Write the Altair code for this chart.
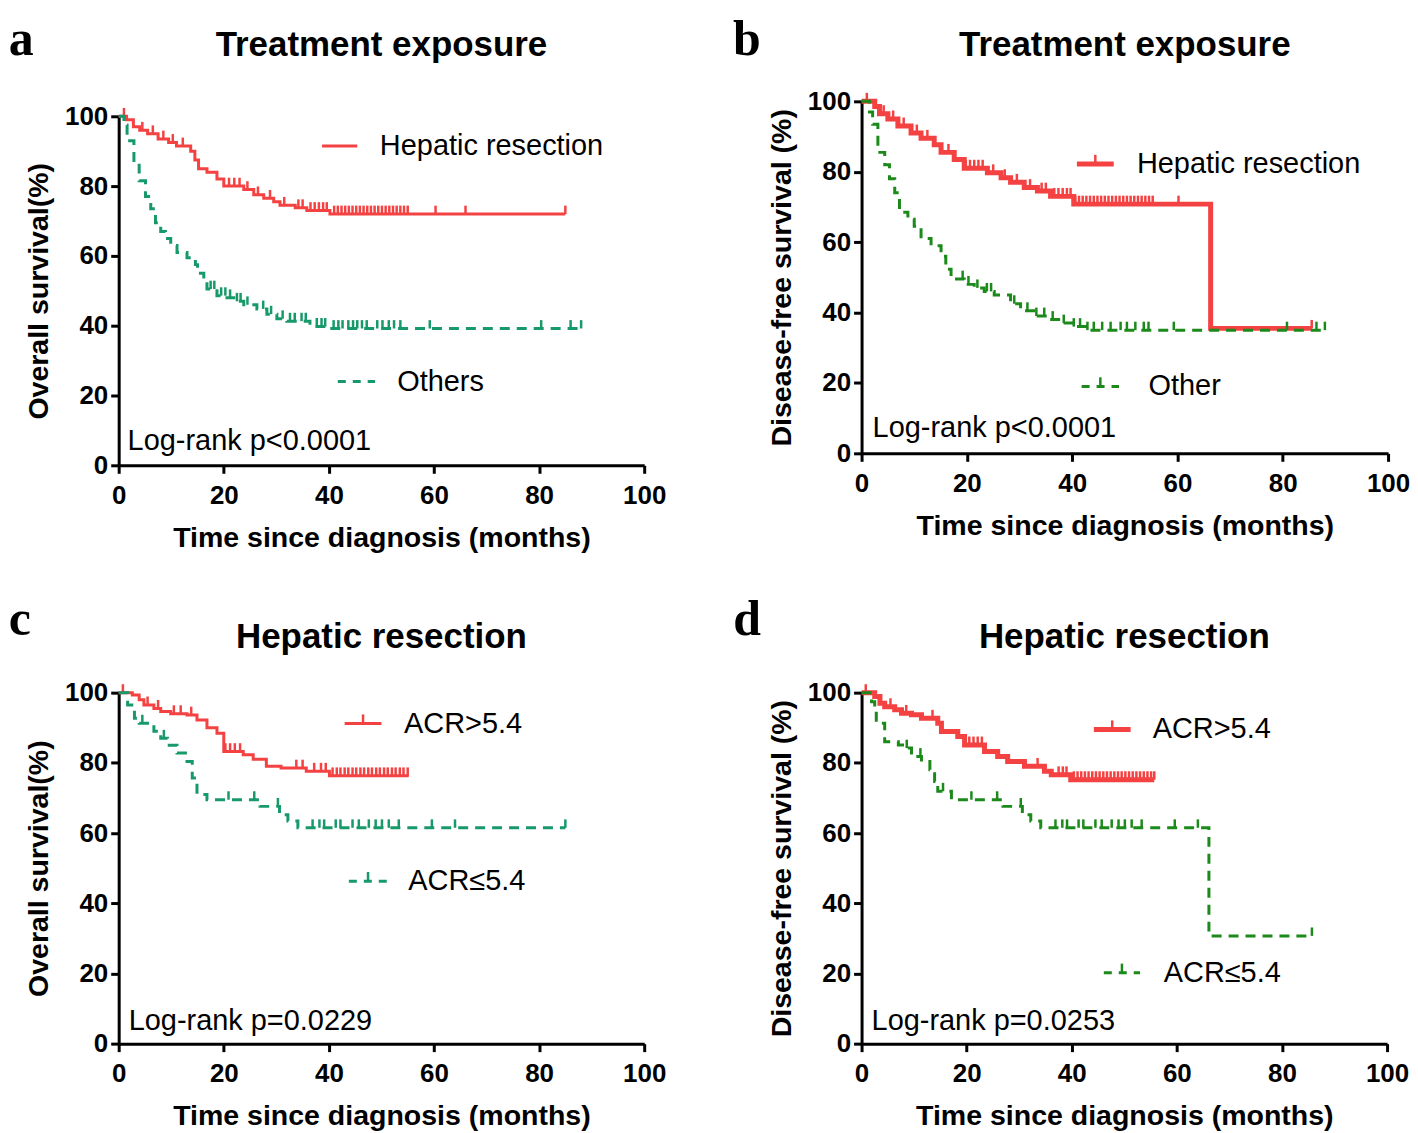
import altair as alt
import pandas as pd

# ---------------- data ----------------
TICKS = [0, 20, 40, 60, 80, 100]

# Panel a: overall survival, treatment exposure
A_HR_T = [0, 1.5, 2.8, 4.0, 5.5, 7.5, 9.5, 11.0, 13.7, 14.5, 15.2, 16.8, 18.7, 20.0, 23.8, 25.7, 27.6, 29.5, 30.7, 33.6, 35.8, 40.2, 85.0]
A_HR_S = [100, 99, 97, 96, 95, 93.5, 92.5, 91.5, 90, 87.5, 85, 84, 82, 80, 79, 77.5, 76.5, 75.5, 74.5, 73.8, 73, 72, 72]
A_HR_C = [1.0, 4.5, 6.5, 8.5, 10.3, 12.2, 21.0, 22.0, 23.0, 24.5, 26.5, 28.8, 31.5, 34.2, 35.0, 36.5, 37.3, 38.1, 38.9, 39.6,
          41.0, 41.7, 42.4, 43.1, 43.8, 44.5, 45.2, 45.9, 46.6, 47.3, 48.0, 48.7, 49.4, 50.1, 50.8, 51.5, 52.2, 52.9, 53.6,
          54.3, 55.0, 60.3, 66.0, 85.0]
A_OT_T = [0, 1.0, 1.6, 2.9, 3.9, 5.1, 6.1, 7.0, 8.0, 8.9, 9.9, 11.1, 13.0, 14.6, 15.0, 16.2, 16.8, 18.7, 20.6, 21.9, 23.8,
          26.3, 28.2, 30.1, 32.0, 36.4, 40.2, 88.0]
A_OT_S = [100, 97.5, 93, 86, 81.5, 77, 73.5, 69.5, 67, 65, 63, 61, 59.5, 57.5, 55, 53, 50.5, 48.6, 48, 47, 46, 44.8, 43.3,
          42, 41.3, 39.8, 39.2, 39.2]
A_OT_C = [17.5, 18.2, 19.5, 20.3, 21.2, 22.5, 23.2, 24.5, 27.5, 29.0, 31.2, 32.6, 33.5, 34.8, 35.6, 37.7, 38.6, 39.3, 40.9,
          41.8, 42.6, 43.7, 44.6, 45.4, 46.3, 47.2, 49.2, 50.2, 51.4, 52.4, 53.6, 59.2, 80.4, 86.0, 88.0]

# Panel b: disease-free survival, treatment exposure
B_HR_T = [0, 2.5, 3.4, 5.0, 6.9, 9.4, 11.3, 13.8, 15.1, 17.6, 19.5, 23.9, 26.5, 28.3, 30.9, 33.4, 35.9, 40.3, 66.3, 85.5]
B_HR_S = [100, 98.5, 96.5, 95, 93, 91, 89.5, 87.7, 85.5, 83.5, 81, 79.7, 78.3, 77, 75.5, 74.5, 73, 70.8, 35.5, 35.5]
B_HR_C = [1.0, 4.2, 6.0, 8.0, 10.5, 12.5, 16.5, 19.8, 20.6, 21.4, 22.2, 23.0, 25.0, 27.2, 29.5, 32.0, 34.2, 35.0, 36.6,
          37.4, 38.2, 39.0, 39.7, 40.6, 41.3, 42.0, 42.7, 43.4, 44.1, 44.8, 45.5, 46.2, 46.9, 47.6, 48.3, 49.0, 49.7,
          50.4, 51.1, 51.8, 52.5, 53.2, 53.9, 54.6, 55.3, 60.2, 85.5]
B_OT_T = [0, 1.5, 2.1, 3.1, 4.4, 5.3, 6.3, 7.2, 8.8, 10.0, 11.3, 13.2, 15.1, 16.0, 17.0, 19.5, 21.4, 23.3, 25.2, 28.3,
          30.2, 33.1, 35.3, 37.8, 40.3, 42.9, 88.0]
B_OT_S = [100, 97, 93.5, 85.5, 82, 78, 74, 68.5, 66.5, 64.5, 61, 59, 56, 52.3, 49.5, 48, 47, 46, 45, 42.5, 40.5, 39, 38,
          37, 36, 35, 35]
B_OT_C = [19.2, 20.3, 22.0, 23.8, 24.6, 29.0, 31.5, 33.2, 34.7, 36.3, 38.4, 40.3, 41.5, 42.9, 44.1, 45.7, 47.3, 49.2,
          50.4, 52.0, 53.6, 54.5, 59.3, 80.8, 86.4, 88.0]

# Panel c: overall survival, hepatic resection by ACR
C_HI_T = [0, 2.6, 3.9, 4.8, 6.7, 8.0, 9.9, 13.0, 14.9, 16.8, 18.7, 20.0, 23.7, 25.6, 28.1, 30.9, 35.7, 40.1, 55.2]
C_HI_S = [100, 99.3, 98, 96.5, 95.5, 94.6, 94, 93.6, 92.2, 90, 88.4, 83.2, 82.3, 81, 79, 78.5, 77.6, 76.3, 76.3]
C_HI_C = [0.8, 5.5, 7.5, 10.5, 11.8, 13.8, 20.3, 21.2, 22.1, 23.1, 33.8, 35.0, 37.2, 38.5, 39.4, 40.7, 41.5, 42.2, 43.0,
          43.7, 44.5, 45.2, 46.0, 46.7, 47.5, 48.2, 49.0, 49.7, 50.5, 51.2, 52.0, 52.7, 53.5, 54.2, 55.0]
C_LO_T = [0, 1.7, 3.0, 3.9, 6.7, 8.0, 9.3, 11.1, 12.7, 14.0, 14.9, 16.8, 26.9, 30.6, 32.2, 34.1, 85.0]
C_LO_S = [100, 96.5, 92.7, 91.3, 89, 87, 85, 82.8, 80.4, 75.7, 71, 69.5, 67.6, 65.2, 63.4, 61.5, 61.5]
C_LO_C = [4.5, 8.6, 20.9, 25.8, 30.3, 36.9, 38.2, 39.1, 41.3, 42.2, 44.5, 45.7, 47.6, 48.9, 50.1, 51.4, 53.3, 59.6,
          64.0, 85.0]

# Panel d: disease-free survival, hepatic resection by ACR
D_HI_T = [0, 2.5, 3.5, 4.4, 6.3, 7.6, 9.5, 11.4, 14.5, 15.2, 18.3, 19.6, 23.4, 25.9, 27.8, 31.0, 34.8, 36.1, 39.8, 55.7]
D_HI_S = [100, 98.9, 97, 96, 95.1, 94.1, 93.7, 92.7, 91.3, 88.9, 87.5, 85.1, 83.2, 81.8, 80.4, 79, 77.6, 76.6, 75.2, 75.2]
D_HI_C = [0.8, 5.5, 8.5, 13.5, 20.5, 21.3, 22.1, 22.9, 33.5, 37.5, 38.3, 39.0, 40.4, 41.1, 41.8, 42.5, 43.2, 43.9, 44.6,
          45.3, 46.0, 46.7, 47.4, 48.1, 48.8, 49.5, 50.2, 50.9, 51.6, 52.3, 53.0, 53.7, 54.4, 55.1, 55.7]
D_LO_T = [0, 1.9, 2.5, 2.8, 4.4, 7.0, 8.2, 9.5, 11.4, 13.0, 13.9, 14.5, 17.1, 26.9, 30.6, 32.2, 34.1, 66.1, 85.7]
D_LO_S = [100, 97.4, 94.1, 91.3, 86, 85.1, 84.2, 81.8, 80.4, 78, 74.7, 71.9, 69.5, 67.6, 65.2, 63.4, 61.5, 30.7, 30.7]
D_LO_C = [8.6, 11.2, 15.5, 20.9, 25.8, 30.3, 36.9, 38.2, 39.1, 41.3, 42.2, 44.5, 45.7, 47.6, 48.9, 50.1, 51.4, 53.3,
          59.6, 64.0, 85.7]

# ---------------- styling ----------------
RED = "#F44242"
TEAL = "#17996A"
GREEN = "#1B8A1B"
SANS = "Liberation Sans"
SERIF = "Liberation Serif"
DASH = [10, 7]
X_TITLE = "Time since diagnosis (months)"


def surv_at(ts, ss, c):
    val = ss[0]
    for t, s in zip(ts, ss):
        if t <= c:
            val = s
    return val


def panel(p):
    w, h = p["w"], p["h"]
    sc = alt.Scale(domain=[0, 100], nice=False, zero=False)
    xenc = alt.X("t:Q", scale=sc, axis=alt.Axis(values=TICKS, title=X_TITLE, labelPadding=9, titlePadding=15,
                                                labelFlush=False))
    yenc = alt.Y("s:Q", scale=sc, axis=alt.Axis(values=TICKS, title=p["ytitle"], labelPadding=3, titlePadding=11,
                                                labelFlush=False))

    layers = []
    for key, color, width, dash in [("hi", RED, p["red_w"], None), ("lo", p["green"], 3, DASH)]:
        ts, ss, cs = p[key]
        df = pd.DataFrame({"t": ts, "s": ss})
        kw = dict(interpolate="step-after", color=color, strokeWidth=width, strokeCap="butt")
        if dash:
            kw["strokeDash"] = dash
        layers.append(alt.Chart(df).mark_line(**kw).encode(x=xenc, y=yenc))
        cdf = pd.DataFrame({"t": cs, "s": [surv_at(ts, ss, c) for c in cs]})
        cdf["s2"] = cdf["s"] + 2.4
        layers.append(alt.Chart(cdf).mark_rule(color=color, strokeWidth=2.5).encode(
            x=xenc, y=yenc, y2=alt.Y2("s2:Q")))

    # legend samples
    for (x1, x2, yy, tx, label, color, width, dash, tick) in p["legend"]:
        ldf = pd.DataFrame({"t": [x1], "t2": [x2], "s": [yy]})
        kw = dict(color=color, strokeWidth=width)
        if dash:
            kw["strokeDash"] = [8, 7]
        layers.append(alt.Chart(ldf).mark_rule(**kw).encode(x=xenc, x2=alt.X2("t2:Q"), y=yenc))
        if tick:
            tdf = pd.DataFrame({"t": [(x1 + x2) / 2], "s": [yy], "s2": [yy + 2.6]})
            layers.append(alt.Chart(tdf).mark_rule(color=color, strokeWidth=2.5).encode(
                x=xenc, y=yenc, y2=alt.Y2("s2:Q")))
        txt = pd.DataFrame({"t": [tx], "s": [yy], "label": [label]})
        layers.append(alt.Chart(txt).mark_text(font=SANS, fontSize=29, align="left", baseline="middle",
                                               color="black").encode(x=xenc, y=yenc, text="label:N"))

    # log-rank annotation
    lr = pd.DataFrame({"t": [p["lr"][0]], "s": [p["lr"][1]], "label": [p["lr"][2]]})
    layers.append(alt.Chart(lr).mark_text(font=SANS, fontSize=29, align="left", baseline="middle",
                                          color="black").encode(x=xenc, y=yenc, text="label:N"))
    # panel title
    tt = pd.DataFrame({"t": [50], "s": [p["title_y"]], "label": [p["title"]]})
    layers.append(alt.Chart(tt).mark_text(font=SANS, fontSize=35, fontWeight="bold", align="center",
                                          baseline="alphabetic", color="black").encode(x=xenc, y=yenc, text="label:N"))
    # panel letter
    lt = pd.DataFrame({"t": [p["letter_x"]], "s": [p["letter_y"]], "label": [p["letter"]]})
    layers.append(alt.Chart(lt).mark_text(font=SERIF, fontSize=50, fontWeight="bold", align="left",
                                          baseline="alphabetic", color="black").encode(x=xenc, y=yenc, text="label:N"))

    return alt.layer(*layers).properties(width=w, height=h)


pa = panel(dict(
    w=527, h=350, ytitle="Overall survival(%)", red_w=3, green=TEAL,
    hi=(A_HR_T, A_HR_S, A_HR_C), lo=(A_OT_T, A_OT_S, A_OT_C),
    legend=[(38.7, 45.4, 91.5, 49.7, "Hepatic resection", RED, 3, False, False),
            (41.7, 48.8, 24.0, 53.0, "Others", TEAL, 3, True, False)],
    lr=(1.7, 6.9, "Log-rank p<0.0001"), title="Treatment exposure", title_y=117.4,
    letter="a", letter_x=-20.9, letter_y=117.7))

pb = panel(dict(
    w=528, h=353, ytitle="Disease-free survival (%)", red_w=5, green=GREEN,
    hi=(B_HR_T, B_HR_S, B_HR_C), lo=(B_OT_T, B_OT_S, B_OT_C),
    legend=[(40.9, 47.9, 82.2, 52.3, "Hepatic resection", RED, 5, False, True),
            (41.8, 48.9, 19.0, 54.5, "Other", GREEN, 3, True, True)],
    lr=(2.1, 7.1, "Log-rank p<0.0001"), title="Treatment exposure", title_y=113.0,
    letter="b", letter_x=-24.4, letter_y=113.3))

pc = panel(dict(
    w=527, h=352, ytitle="Overall survival(%)", red_w=3, green=TEAL,
    hi=(C_HI_T, C_HI_S, C_HI_C), lo=(C_LO_T, C_LO_S, C_LO_C),
    legend=[(43.0, 50.0, 91.2, 54.3, "ACR>5.4", RED, 3, False, True),
            (43.8, 51.1, 46.3, 55.1, "ACR≤5.4", TEAL, 3, True, True)],
    lr=(1.9, 6.5, "Log-rank p=0.0229"), title="Hepatic resection", title_y=112.8,
    letter="c", letter_x=-20.9, letter_y=116.5))

pd_ = panel(dict(
    w=527, h=352, ytitle="Disease-free survival (%)", red_w=5, green=GREEN,
    hi=(D_HI_T, D_HI_S, D_HI_C), lo=(D_LO_T, D_LO_S, D_LO_C),
    legend=[(44.2, 51.2, 89.5, 55.4, "ACR>5.4", RED, 5, False, True),
            (46.1, 53.0, 20.2, 57.5, "ACR≤5.4", GREEN, 3, True, True)],
    lr=(1.9, 6.5, "Log-rank p=0.0253"), title="Hepatic resection", title_y=112.8,
    letter="d", letter_x=-24.4, letter_y=116.5))

# an invisible 1x1 anchor above panel a lets panel a sit lower than panel b, as in the figure
anchor = alt.Chart(pd.DataFrame({"t": [0]})).mark_point(opacity=0, size=1).encode(
    x=alt.value(0), y=alt.value(0)).properties(width=1, height=1)

col1 = alt.vconcat(alt.vconcat(anchor, pa, spacing=-88), pc, spacing=42)
col2 = alt.vconcat(pb, pd_, spacing=54)

chart = alt.hconcat(col1, col2, spacing=67).properties(
    padding={"top": 5, "left": 0, "right": 0, "bottom": 0}
).configure_view(
    strokeWidth=0
).configure_axis(
    grid=False, domainColor="black", domainWidth=3, tickColor="black", tickWidth=3, tickSize=8,
    labelFont=SANS, labelFontSize=26, labelFontWeight="bold", labelColor="black",
    titleFont=SANS, titleFontSize=28.6, titleFontWeight="bold", titleColor="black"
)

chart.save("out.html", embed_options={"renderer": "svg", "actions": False})
